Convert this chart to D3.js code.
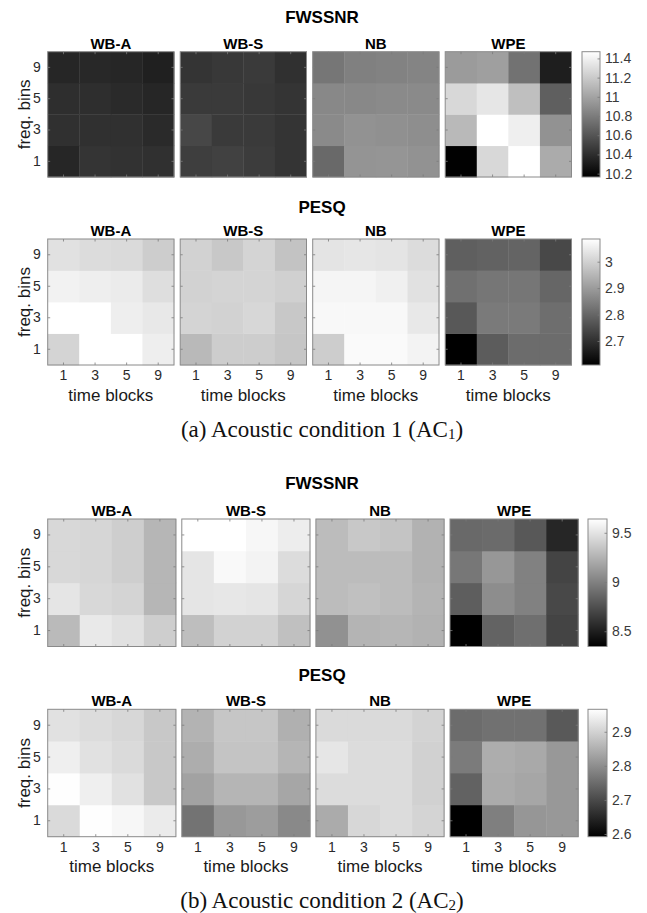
<!DOCTYPE html>
<html>
<head>
<meta charset="utf-8">
<script src="https://cdn.jsdelivr.net/npm/d3@7/dist/d3.min.js"></script>
<style>
  html, body { margin: 0; padding: 0; background: #fff; }
  svg { display: block; }
</style>
</head>
<body>
<svg id="fig" width="647" height="913"></svg>
<script>
// Methods, grid labels
const methods = ["WB-A", "WB-S", "NB", "WPE"];
const timeBlocks = ["1", "3", "5", "9"];
const freqBins = ["1", "3", "5", "9"];

// Each method: rows by frequency bin (1, 3, 5, 9), columns by time block (1, 3, 5, 9)
const ac1Fwssnr = [
  [[10.36, 10.43, 10.42, 10.41], [10.41, 10.41, 10.41, 10.38], [10.40, 10.40, 10.38, 10.36], [10.36, 10.37, 10.36, 10.33]],
  [[10.48, 10.50, 10.47, 10.43], [10.53, 10.46, 10.46, 10.43], [10.46, 10.46, 10.45, 10.43], [10.43, 10.45, 10.46, 10.41]],
  [[10.70, 10.92, 10.93, 10.91], [10.87, 10.91, 10.90, 10.89], [10.86, 10.86, 10.87, 10.87], [10.77, 10.82, 10.83, 10.84]],
  [[10.17, 11.27, 11.47, 11.04], [11.11, 11.47, 11.39, 10.91], [11.27, 11.34, 11.14, 10.65], [10.96, 10.98, 10.75, 10.32]]
];
const ac1Pesq = [
  [[3.006, 3.086, 3.086, 3.054], [3.086, 3.086, 3.054, 3.043], [3.062, 3.054, 3.049, 3.024], [3.030, 3.021, 3.017, 2.993]],
  [[2.955, 2.993, 2.993, 2.979], [3.006, 3.002, 3.011, 2.983], [3.002, 3.006, 3.006, 2.998], [3.002, 2.983, 3.006, 2.974]],
  [[2.993, 3.077, 3.077, 3.064], [3.073, 3.073, 3.073, 3.043], [3.067, 3.067, 3.058, 3.030], [3.036, 3.039, 3.036, 3.021]],
  [[2.609, 2.781, 2.811, 2.811], [2.774, 2.837, 2.837, 2.815], [2.819, 2.830, 2.830, 2.800], [2.787, 2.792, 2.796, 2.744]]
];
const ac2Fwssnr = [
  [[9.29, 9.53, 9.49, 9.39], [9.51, 9.44, 9.42, 9.27], [9.44, 9.43, 9.39, 9.27], [9.44, 9.43, 9.39, 9.27]],
  [[9.31, 9.41, 9.41, 9.32], [9.51, 9.52, 9.51, 9.43], [9.51, 9.61, 9.58, 9.46], [9.64, 9.64, 9.60, 9.55]],
  [[9.08, 9.26, 9.27, 9.25], [9.30, 9.32, 9.30, 9.26], [9.30, 9.30, 9.30, 9.25], [9.30, 9.36, 9.34, 9.25]],
  [[8.345, 8.85, 8.91, 8.69], [8.82, 9.06, 9.00, 8.71], [8.95, 9.11, 9.00, 8.69], [8.88, 8.89, 8.79, 8.54]]
];
const ac2Pesq = [
  [[2.912, 2.965, 2.955, 2.936], [2.965, 2.943, 2.922, 2.886], [2.943, 2.922, 2.912, 2.886], [2.922, 2.915, 2.908, 2.886]],
  [[2.760, 2.815, 2.822, 2.793], [2.829, 2.858, 2.858, 2.836], [2.846, 2.879, 2.879, 2.858], [2.855, 2.883, 2.883, 2.850]],
  [[2.843, 2.908, 2.915, 2.903], [2.915, 2.915, 2.915, 2.898], [2.929, 2.915, 2.915, 2.898], [2.912, 2.912, 2.912, 2.901]],
  [[2.592, 2.779, 2.812, 2.815], [2.736, 2.843, 2.836, 2.815], [2.772, 2.846, 2.840, 2.815], [2.750, 2.757, 2.757, 2.722]]
];

// Colour limits and colourbar ticks
const ac1FwssnrLimits = [10.165, 11.47];
const ac1PesqLimits = [2.609, 3.086];
const ac2FwssnrLimits = [8.345, 9.64];
const ac2PesqLimits = [2.592, 2.966];
const ac1FwssnrTicks = [10.2, 10.4, 10.6, 10.8, 11, 11.2, 11.4];
const ac1PesqTicks = [2.7, 2.8, 2.9, 3];
const ac2FwssnrTicks = [8.5, 9, 9.5];
const ac2PesqTicks = [2.6, 2.7, 2.8, 2.9];

const svg = d3.select("#fig");
const SANS = '"Liberation Sans", Arial, Helvetica, sans-serif';
const SERIF = '"Liberation Serif", "Times New Roman", Times, serif';

// Layout for each block of four maps
const blocks = [
  { title: "FWSSNR", data: ac1Fwssnr, limits: ac1FwssnrLimits, cbTicks: ac1FwssnrTicks,
    titleY: 17, top: 51.7, h: 125.3, x0: 47.7, w: 126.3, step: 132.5, cbX: 582, cbW: 18, xLabels: false },
  { title: "PESQ", data: ac1Pesq, limits: ac1PesqLimits, cbTicks: ac1PesqTicks,
    titleY: 207, top: 239, h: 126, x0: 47.7, w: 126.3, step: 132.5, cbX: 582, cbW: 18, xLabels: true },
  { title: "FWSSNR", data: ac2Fwssnr, limits: ac2FwssnrLimits, cbTicks: ac2FwssnrTicks,
    titleY: 483, top: 519, h: 127.5, x0: 47.7, w: 128.2, step: 134.1, cbX: 588, cbW: 19, xLabels: false },
  { title: "PESQ", data: ac2Pesq, limits: ac2PesqLimits, cbTicks: ac2PesqTicks,
    titleY: 675, top: 709.3, h: 127.4, x0: 47.7, w: 128.2, step: 134.1, cbX: 588, cbW: 19, xLabels: true }
];

const captions = [
  { y: 429, lead: "(a) Acoustic condition 1 (AC", sub: "1" },
  { y: 900, lead: "(b) Acoustic condition 2 (AC", sub: "2" }
];

const gradient = svg.append("defs").append("linearGradient")
  .attr("id", "grayRamp").attr("x1", 0).attr("y1", 1).attr("x2", 0).attr("y2", 0);
gradient.append("stop").attr("offset", "0%").attr("stop-color", "#000");
gradient.append("stop").attr("offset", "100%").attr("stop-color", "#fff");

blocks.forEach(b => {
  const g = svg.append("g");
  const color = d3.scaleLinear().domain(b.limits).range(["#000", "#fff"])
    .interpolate(d3.interpolateRgb).clamp(true);

  // Block title
  g.append("text")
    .attr("x", 322).attr("y", b.titleY)
    .attr("text-anchor", "middle").attr("dominant-baseline", "central")
    .style("font-family", SANS).style("font-weight", "bold").style("font-size", "17px")
    .text(b.title);

  methods.forEach((m, mi) => {
    const left = b.x0 + mi * b.step;
    const x = d3.scaleBand().domain(timeBlocks).range([left, left + b.w]);
    const y = d3.scaleBand().domain(freqBins).range([b.top + b.h, b.top]);
    const p = g.append("g");

    // cells
    b.data[mi].forEach((row, ri) => {
      row.forEach((v, ci) => {
        p.append("rect")
          .attr("x", x(timeBlocks[ci])).attr("y", y(freqBins[ri]))
          .attr("width", x.bandwidth() + 0.4).attr("height", y.bandwidth() + 0.4)
          .attr("fill", color(v));
      });
    });

    // inward ticks on all four sides
    const tickStyle = sel => {
      sel.select(".domain").remove();
      sel.selectAll(".tick line").attr("stroke", "#7a7a7a").attr("stroke-width", 0.8);
    };
    p.append("g").attr("transform", `translate(0,${b.top + b.h})`)
      .call(d3.axisBottom(x).tickSizeInner(-2.5).tickSizeOuter(0).tickPadding(5)
        .tickFormat(b.xLabels ? d => d : ""))
      .call(tickStyle)
      .call(s => s.selectAll("text").style("font-family", SANS).style("font-size", "14px").attr("fill", "#2a2a2a"));
    p.append("g").attr("transform", `translate(0,${b.top})`)
      .call(d3.axisTop(x).tickSizeInner(-2.5).tickSizeOuter(0).tickFormat(""))
      .call(tickStyle);
    p.append("g").attr("transform", `translate(${left},0)`)
      .call(d3.axisLeft(y).tickSizeInner(-2.5).tickSizeOuter(0).tickPadding(7)
        .tickFormat(mi === 0 ? d => d : ""))
      .call(tickStyle)
      .call(s => s.selectAll("text").style("font-family", SANS).style("font-size", "14px").attr("fill", "#2a2a2a"));
    p.append("g").attr("transform", `translate(${left + b.w},0)`)
      .call(d3.axisRight(y).tickSizeInner(-2.5).tickSizeOuter(0).tickFormat(""))
      .call(tickStyle);

    // frame
    p.append("rect")
      .attr("x", left).attr("y", b.top).attr("width", b.w).attr("height", b.h)
      .attr("fill", "none").attr("stroke", "#8a8a8a").attr("stroke-width", 1);

    // panel title
    p.append("text")
      .attr("x", left + b.w / 2).attr("y", b.top - 8.5)
      .attr("text-anchor", "middle").attr("dominant-baseline", "central")
      .style("font-family", SANS).style("font-weight", "bold").style("font-size", "15px")
      .text(m);

    if (b.xLabels) {
      p.append("text")
        .attr("x", left + b.w / 2).attr("y", b.top + b.h + 30)
        .attr("text-anchor", "middle").attr("dominant-baseline", "central")
        .style("font-family", SANS).style("font-size", "17px").attr("fill", "#1a1a1a")
        .text("time blocks");
    }
  });

  // y label
  g.append("text")
    .attr("transform", `translate(24,${b.top + b.h / 2}) rotate(-90)`)
    .attr("text-anchor", "middle").attr("dominant-baseline", "central")
    .style("font-family", SANS).style("font-size", "17px").attr("fill", "#1a1a1a")
    .text("freq. bins");

  // colourbar
  const cbScale = d3.scaleLinear().domain(b.limits).range([b.top + b.h, b.top]);
  g.append("rect")
    .attr("x", b.cbX).attr("y", b.top).attr("width", b.cbW).attr("height", b.h)
    .attr("fill", "url(#grayRamp)").attr("stroke", "#8a8a8a").attr("stroke-width", 1);
  g.append("g").attr("transform", `translate(${b.cbX + b.cbW},0)`)
    .call(d3.axisRight(cbScale).tickValues(b.cbTicks).tickSizeInner(-2.5).tickSizeOuter(0)
      .tickPadding(5).tickFormat(d3.format("")))
    .call(s => s.select(".domain").remove())
    .call(s => s.selectAll(".tick line").attr("stroke", "#7a7a7a").attr("stroke-width", 0.8))
    .call(s => s.selectAll("text").style("font-family", SANS).style("font-size", "14px").attr("fill", "#3a3a3a"));
});

// captions
captions.forEach(c => {
  const t = svg.append("text")
    .attr("x", 322).attr("y", c.y)
    .attr("text-anchor", "middle").attr("dominant-baseline", "central")
    .style("font-family", SERIF).style("font-size", "23px").attr("fill", "#111");
  t.append("tspan").text(c.lead);
  t.append("tspan").attr("dy", 5).style("font-size", "15px").text(c.sub);
  t.append("tspan").attr("dy", -5).text(")");
});
</script>
</body>
</html>
